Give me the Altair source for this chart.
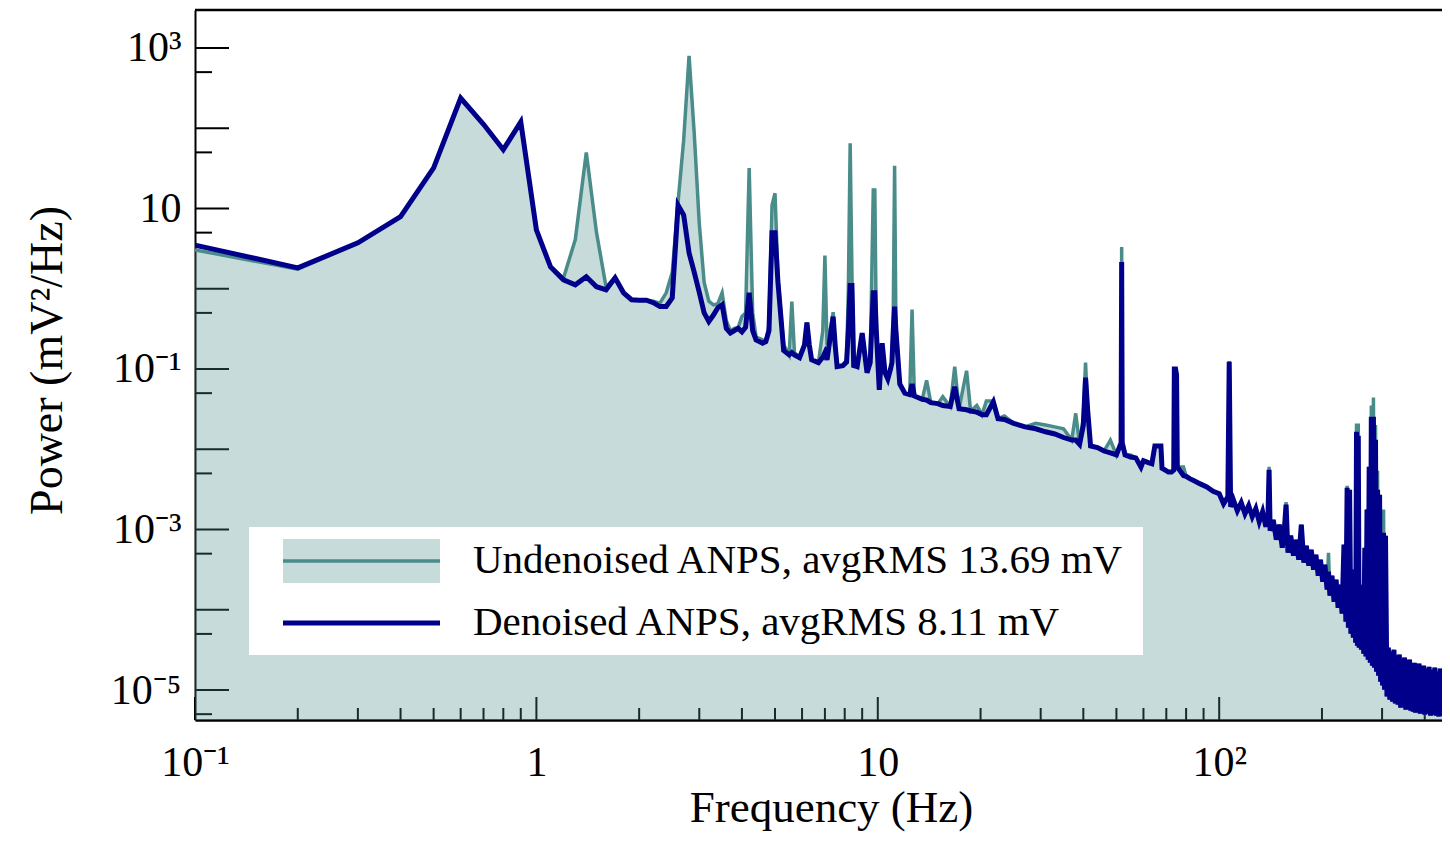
import altair as alt
import pandas as pd

# ---------------- data ----------------
freq_low = [0.1, 0.2, 0.3, 0.4, 0.5, 0.6, 0.7, 0.8, 0.9, 1.0, 1.1, 1.2, 1.3, 1.4, 1.5, 1.6, 1.7, 1.8, 1.9, 2.0,
            2.1, 2.2, 2.3, 2.4, 2.5, 2.6, 2.7, 2.8, 2.9, 3.0, 3.1, 3.2, 3.3, 3.4, 3.5, 3.6, 3.7, 3.8, 3.9, 4.0]
den_low = [3.5, 1.82, 3.73, 7.9, 32, 238, 112, 54, 120, 5.4, 1.87, 1.29, 1.12, 1.41, 1.06, 0.97, 1.37, 0.89, 0.73, 0.72,
           0.72, 0.67, 0.60, 0.60, 0.77, 11, 8.3, 2.8, 1.6, 0.9, 0.5, 0.39, 0.47, 0.58, 0.63, 0.32, 0.28, 0.30, 0.32, 0.29]
und_low = [3.05, 1.75, 3.7, 7.9, 32, 238, 112, 54, 120, 5.4, 1.9, 1.35, 4.1, 50, 5.0, 1.05, 1.37, 0.89, 0.73, 0.72,
           0.72, 0.70, 0.66, 0.89, 1.6, 12, 71, 800, 85, 6.5, 1.2, 0.7, 0.63, 0.65, 0.89, 0.4, 0.3, 0.32, 0.33, 0.45]

freq_mid = [4.1, 4.2, 4.3, 4.4, 4.6, 4.7, 4.8, 4.9, 5.0, 5.1, 5.2, 5.3, 5.5, 5.6, 5.7, 5.9, 6.1, 6.2, 6.3, 6.4,
            6.7, 6.9, 7.0, 7.1, 7.3, 7.4, 7.5, 7.6, 7.9, 8.1, 8.2, 8.3, 8.4, 8.5, 8.7, 9.0, 9.3, 9.5, 9.7, 9.8,
            9.9, 10.1, 10.3, 10.5, 10.7, 10.9, 11.0, 11.1, 11.2, 11.3, 11.6, 12.0, 12.4, 12.6, 12.8, 13.5, 13.9, 14.3, 15.0, 15.5,
            16.3, 16.8, 17.3, 18.2, 18.7, 19.5, 20.2, 20.8, 21.8, 22.5, 23.5, 25, 27, 29, 31, 33, 35, 37, 38, 39,
            40, 40.6, 41.2, 42, 44, 46, 48, 50, 51.6, 51.8, 52.0, 53, 55, 57, 59, 60, 62, 63.5, 64.8, 66,
            67.5, 68, 69.5, 71, 72.5, 73.6, 73.9, 74.5, 75.0, 75.4, 78.6, 80, 82, 85, 88, 92, 96]
den_mid = [0.33, 0.89, 0.30, 0.23, 0.21, 0.22, 0.30, 5.0, 5.0, 1.2, 0.45, 0.17, 0.15, 0.16, 0.15, 0.138, 0.2, 0.38, 0.2, 0.13,
           0.12, 0.14, 0.16, 0.13, 0.3, 0.45, 0.2, 0.107, 0.11, 0.122, 0.3, 1.1, 1.1, 0.11, 0.107, 0.28, 0.09, 0.12, 0.89, 0.89,
           0.3, 0.055, 0.21, 0.09, 0.075, 0.1, 0.12, 0.3, 0.6, 0.3, 0.065, 0.05, 0.048, 0.065, 0.046, 0.042, 0.041, 0.038, 0.037, 0.035,
           0.034, 0.06, 0.032, 0.031, 0.03, 0.029, 0.027, 0.027, 0.039, 0.024, 0.0235, 0.021, 0.019, 0.018, 0.0165, 0.0155, 0.014, 0.013, 0.013, 0.0115,
           0.02, 0.078, 0.03, 0.011, 0.0105, 0.0095, 0.009, 0.0085, 0.012, 2.16, 0.012, 0.0085, 0.008, 0.0078, 0.006, 0.0072, 0.0068, 0.0066, 0.011, 0.011,
           0.011, 0.0058, 0.0055, 0.0052, 0.0052, 0.0055, 0.1, 0.1, 0.085, 0.006, 0.0047, 0.0046, 0.0043, 0.004, 0.0037, 0.0034, 0.003]
und_mid = [0.5, 32, 0.5, 0.25, 0.23, 0.22, 0.35, 11, 15.5, 1.4, 0.5, 0.2, 0.15, 0.69, 0.16, 0.14, 0.2, 0.38, 0.2, 0.13,
           0.12, 0.3, 2.6, 0.2, 0.35, 0.51, 0.2, 0.107, 0.11, 0.13, 1.0, 65, 1.5, 0.12, 0.107, 0.28, 0.09, 0.12, 17, 17,
           0.3, 0.055, 0.21, 0.09, 0.075, 0.1, 0.12, 0.5, 34, 0.35, 0.065, 0.05, 0.048, 0.55, 0.046, 0.042, 0.072, 0.038, 0.037, 0.045,
           0.034, 0.107, 0.032, 0.095, 0.03, 0.035, 0.027, 0.04, 0.04, 0.024, 0.026, 0.021, 0.019, 0.021, 0.02, 0.019, 0.018, 0.013, 0.028, 0.0115,
           0.025, 0.12, 0.03, 0.011, 0.0105, 0.0095, 0.013, 0.0085, 0.012, 3.3, 0.012, 0.0085, 0.0085, 0.0078, 0.006, 0.0072, 0.0068, 0.0066, 0.011, 0.011,
           0.011, 0.0058, 0.0055, 0.0052, 0.0052, 0.0055, 0.1, 0.1, 0.085, 0.006, 0.006, 0.0046, 0.0043, 0.004, 0.0037, 0.0034, 0.003]

freq_high = [100, 103, 106, 107, 108, 110, 113, 116, 119, 122, 125, 128, 131, 134, 137, 139, 140, 141, 144, 147,
             150, 153, 155, 157, 159, 162, 165, 168, 171, 174, 177, 180, 183, 186, 189, 192, 195, 198, 201, 204,
             207, 209, 211, 214, 217, 220, 223, 226, 229, 232, 235, 237, 239, 241, 243, 245, 247, 249, 251, 252.5,
             254, 255.5, 257, 259, 261, 263, 265, 267, 269, 271, 273, 275, 277, 279, 281, 283, 285, 287, 289, 291,
             293, 295, 297, 299, 301, 303, 305, 307, 310, 313, 316, 319, 322, 325, 328, 331, 334, 337, 340, 343,
             346, 349, 352, 355, 358, 361, 364, 367, 370, 373, 376, 379, 382, 385, 388, 391, 394, 397, 400, 404,
             408, 412, 416, 420, 424, 428, 432, 436, 440, 444, 448, 452, 456, 460, 464, 468, 472, 476, 480, 485,
             490, 495, 500]
den_high = [2.79e-3, 2.09e-3, 2.56e-3, 0.123, 1.92e-3, 2.35e-3, 1.71e-3, 2.16e-3, 1.57e-3, 1.98e-3,
            1.44e-3, 1.82e-3, 1.25e-3, 1.67e-3, 1.08e-3, 1.53e-3, 5.56e-3, 9.66e-4, 1.32e-3, 7.46e-4,
            1.15e-3, 5.93e-4, 9.39e-4, 2.04e-3, 5.14e-4, 8.38e-4, 4.72e-4, 7.46e-4, 4.21e-4, 1.15e-3,
            3.86e-4, 6.28e-4, 3.54e-4, 5.60e-4, 3.16e-4, 4.85e-4, 2.66e-4, 4.21e-4, 2.24e-4, 3.65e-4,
            1.78e-4, 2.98e-4, 1.50e-4, 2.66e-4, 1.26e-4, 2.37e-4, 1.06e-4, 2.05e-4, 8.93e-5, 6.47e-4,
            7.11e-5, 3.32e-3, 5.98e-5, 3.13e-3, 5.04e-5, 3.16e-4, 4.50e-5, 2.74e-4, 3.89e-5, 1.65e-2,
            3.57e-5, 1.47e-2, 3.37e-5, 2.05e-4, 3.18e-5, 1.78e-4, 2.84e-5, 5.93e-4, 2.61e-5, 1.77e-3,
            2.39e-5, 6.05e-3, 2.19e-5, 2.54e-2, 2.01e-5, 2.54e-2, 1.90e-5, 1.31e-2, 1.69e-5, 3.13e-3,
            1.51e-5, 2.71e-3, 1.27e-5, 9.12e-4, 1.14e-5, 9.12e-4, 1.01e-5, 8.38e-4, 8.28e-6, 3.37e-5,
            7.59e-6, 3.01e-5, 7.18e-6, 3.18e-5, 6.78e-6, 2.68e-5, 6.58e-6, 2.76e-5, 6.04e-6, 2.39e-5,
            6.21e-6, 2.53e-5, 5.70e-6, 2.26e-5, 5.86e-6, 2.39e-5, 5.53e-6, 2.07e-5, 5.38e-6, 2.19e-5,
            5.23e-6, 1.95e-5, 5.38e-6, 2.13e-5, 5.08e-6, 1.90e-5, 5.23e-6, 2.01e-5, 4.94e-6, 1.85e-5,
            5.08e-6, 1.95e-5, 4.80e-6, 1.79e-5, 4.94e-6, 1.90e-5, 4.80e-6, 1.69e-5, 4.67e-6, 1.85e-5,
            4.80e-6, 1.65e-5, 4.67e-6, 1.79e-5, 4.80e-6, 1.60e-5, 4.67e-6, 1.74e-5, 4.80e-6, 1.65e-5,
            4.67e-6, 1.69e-5, 4.80e-6]
und_high = [2.79e-3, 2.09e-3, 2.56e-3, 0.126, 1.92e-3, 2.35e-3, 1.71e-3, 2.16e-3, 1.57e-3, 1.98e-3,
            1.44e-3, 1.82e-3, 1.25e-3, 1.67e-3, 1.08e-3, 1.53e-3, 6.05e-3, 9.66e-4, 1.32e-3, 7.46e-4,
            1.15e-3, 5.93e-4, 9.39e-4, 2.2e-3, 5.14e-4, 8.38e-4, 4.72e-4, 7.46e-4, 4.21e-4, 1.15e-3,
            3.86e-4, 6.28e-4, 3.54e-4, 5.60e-4, 3.16e-4, 4.85e-4, 2.66e-4, 4.21e-4, 2.24e-4, 3.65e-4,
            1.78e-4, 5.14e-4, 1.50e-4, 2.66e-4, 1.26e-4, 2.37e-4, 1.06e-4, 2.05e-4, 8.93e-5, 6.47e-4,
            7.11e-5, 3.5e-3, 5.98e-5, 3.13e-3, 5.04e-5, 3.16e-4, 4.50e-5, 2.74e-4, 3.89e-5, 2.1e-2,
            3.57e-5, 2.1e-2, 3.37e-5, 2.05e-4, 3.18e-5, 1.78e-4, 2.84e-5, 5.93e-4, 2.61e-5, 1.77e-3,
            2.39e-5, 6.05e-3, 2.19e-5, 3.5e-2, 2.01e-5, 4.4e-2, 1.90e-5, 2.0e-2, 1.69e-5, 5.4e-3,
            1.51e-5, 2.71e-3, 1.27e-5, 1.77e-3, 1.14e-5, 1.77e-3, 1.01e-5, 8.38e-4, 8.28e-6, 3.37e-5,
            7.59e-6, 3.01e-5, 7.18e-6, 3.18e-5, 6.78e-6, 2.68e-5, 6.58e-6, 2.76e-5, 6.04e-6, 2.39e-5,
            6.21e-6, 2.53e-5, 5.70e-6, 2.26e-5, 5.86e-6, 2.39e-5, 5.53e-6, 2.07e-5, 5.38e-6, 2.19e-5,
            5.23e-6, 1.95e-5, 5.38e-6, 2.13e-5, 5.08e-6, 1.90e-5, 5.23e-6, 2.01e-5, 4.94e-6, 1.85e-5,
            5.08e-6, 1.95e-5, 4.80e-6, 1.79e-5, 4.94e-6, 1.90e-5, 4.80e-6, 1.69e-5, 4.67e-6, 1.85e-5,
            4.80e-6, 1.65e-5, 4.67e-6, 1.79e-5, 4.80e-6, 1.60e-5, 4.67e-6, 1.74e-5, 4.80e-6, 1.65e-5,
            4.67e-6, 1.69e-5, 4.80e-6]

legend_labels = ["Undenoised ANPS, avgRMS 13.69 mV", "Denoised ANPS, avgRMS 8.11 mV"]

x_label_values = [0.1, 1, 10, 100]
x_label_texts = ["10⁻¹", "1", "10", "10²"]
y_label_values = [1e-5, 1e-3, 1e-1, 10, 1000]
y_label_texts = ["10⁻⁵", "10⁻³", "10⁻¹", "10", "10³"]

x_major_ticks = [0.1, 1, 10, 100]
x_minor_ticks = [0.2, 0.3, 0.4, 0.5, 0.6, 0.7, 0.8, 0.9, 2, 3, 4, 5, 6, 7, 8, 9,
                 20, 30, 40, 50, 60, 70, 80, 90, 200, 300, 400]
y_major_ticks = [1e-5, 1e-4, 1e-3, 1e-2, 1e-1, 1, 10, 100, 1000]
y_minor_ticks = [5e-6, 5e-5, 5e-4, 5e-3, 5e-2, 0.5, 5, 50, 500]

# ---------------- chart ----------------
freq = freq_low + freq_mid + freq_high
und = und_low + und_mid + und_high
den = den_low + den_mid + den_high
df = pd.DataFrame({"f": freq, "p": und, "d": den})

W, H = 1247, 710
FONT = "Liberation Serif"
TEAL = "#4a8c8a"
NAVY = "#00008b"
Y_MIN, Y_MAX = 4.23e-6, 2972
X_MIN, X_MAX = 0.1, 449.4

xs = alt.Scale(type="log", domain=[X_MIN, X_MAX])
ys = alt.Scale(type="log", domain=[Y_MIN, Y_MAX])


def label_expr(vals, labs):
    parts = [f"datum.value < {v * 3:g} ? '{l}'" for v, l in zip(vals[:-1], labs[:-1])]
    return " : ".join(parts) + f" : '{labs[-1]}'"


x_axis = alt.Axis(values=x_label_values, labelExpr=label_expr(x_label_values, x_label_texts),
                  title="Frequency (Hz)", ticks=False, tickSize=0, domain=True, domainColor="black",
                  domainWidth=2.5, grid=False,
                  labelFont=FONT, labelFontSize=42, labelColor="black", labelPadding=22,
                  labelFlush=False, labelOverlap=False,
                  titleFont=FONT, titleFontSize=45, titleFontWeight="normal", titleColor="black",
                  titleX=636, titleY=101, titleAlign="center", titleBaseline="alphabetic")
y_axis = alt.Axis(values=y_label_values, labelExpr=label_expr(y_label_values, y_label_texts),
                  title="Power (mV²/Hz)", ticks=False, tickSize=0, domain=True, domainColor="black",
                  domainWidth=2, grid=False,
                  labelFont=FONT, labelFontSize=42, labelColor="black", labelPadding=14,
                  labelBaseline="middle", labelOverlap=False,
                  titleFont=FONT, titleFontSize=46, titleFontWeight="normal", titleColor="black",
                  titleX=-148, titleY=350, titleAngle=270, titleAlign="center", titleBaseline="middle")

base = alt.Chart(df)


def yticks(vals, length):
    return alt.Chart(pd.DataFrame({"p": vals})).mark_rule(color="black", strokeWidth=2).encode(
        y=alt.Y("p:Q", scale=ys), x=alt.value(0), x2=alt.value(length))


def xticks(vals, length):
    return alt.Chart(pd.DataFrame({"f": vals})).mark_rule(color="black", strokeWidth=2).encode(
        x=alt.X("f:Q", scale=xs), y=alt.value(H), y2=alt.value(H - length))


area = base.mark_area(color=TEAL, fillOpacity=0.31, clip=True, orient="vertical").encode(
    x=alt.X("f:Q", scale=xs, axis=x_axis),
    y=alt.Y("p:Q", scale=ys, axis=y_axis),
    y2=alt.datum(Y_MIN))
line_u = base.mark_line(color=TEAL, strokeWidth=3.5, clip=True).encode(
    x=alt.X("f:Q", scale=xs), y=alt.Y("p:Q", scale=ys))
line_d = base.mark_line(color=NAVY, strokeWidth=5, clip=True).encode(
    x=alt.X("f:Q", scale=xs), y=alt.Y("d:Q", scale=ys))

one = pd.DataFrame({"k": [0]})
top_spine = alt.Chart(one).mark_rule(color="black", strokeWidth=2.5).encode(
    x=alt.value(0), x2=alt.value(W), y=alt.value(0))
box = alt.Chart(one).mark_rect(color="white").encode(
    x=alt.value(54), x2=alt.value(948), y=alt.value(517), y2=alt.value(645))
swatch = alt.Chart(one).mark_rect(color=TEAL, opacity=0.31).encode(
    x=alt.value(88), x2=alt.value(245), y=alt.value(529), y2=alt.value(573))
leg_u = alt.Chart(one).mark_rule(color=TEAL, strokeWidth=3.5).encode(
    x=alt.value(88), x2=alt.value(245), y=alt.value(551))
leg_d = alt.Chart(one).mark_rule(color=NAVY, strokeWidth=5).encode(
    x=alt.value(88), x2=alt.value(245), y=alt.value(613))
txt_u = alt.Chart(pd.DataFrame({"label": [legend_labels[0]]})).mark_text(
    font=FONT, fontSize=41, align="left", baseline="alphabetic", color="black").encode(
    text="label:N", x=alt.value(278), y=alt.value(563))
txt_d = alt.Chart(pd.DataFrame({"label": [legend_labels[1]]})).mark_text(
    font=FONT, fontSize=41, align="left", baseline="alphabetic", color="black").encode(
    text="label:N", x=alt.value(278), y=alt.value(625))

chart = alt.layer(
    yticks(y_major_ticks, 34), yticks(y_minor_ticks, 17),
    xticks(x_major_ticks, 23), xticks(x_minor_ticks, 12),
    area, line_u, line_d, top_spine,
    box, swatch, leg_u, leg_d, txt_u, txt_d,
).properties(
    width=W, height=H,
    autosize=alt.AutoSizeParams(type="none"),
    padding={"left": 187, "top": 2, "right": 0, "bottom": 112},
    background="white",
).configure_view(stroke=None)

chart.save("out.html", embed_options={"renderer": "svg", "actions": False})
